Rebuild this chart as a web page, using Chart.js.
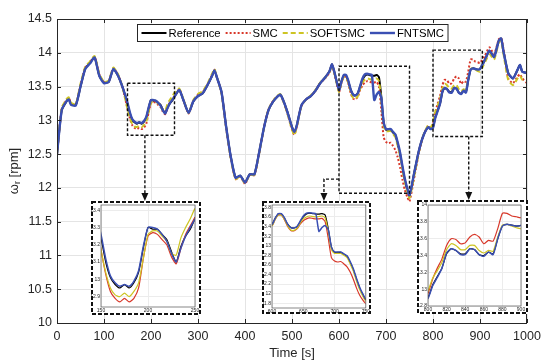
<!DOCTYPE html>
<html>
<head>
<meta charset="utf-8">
<script src="https://cdn.jsdelivr.net/npm/chart.js@4.4.1/dist/chart.umd.min.js"></script>
<style>
  html, body { margin: 0; padding: 0; background: #fff; }
  #wrap { position: relative; width: 550px; height: 363px; overflow: hidden; }
  #wrap canvas { position: absolute; }
</style>
</head>
<body>
<div id="wrap">
  <canvas id="mainChart" width="550" height="363" style="left:0;top:0"></canvas>
  <canvas id="inset1" width="110" height="114" style="left:91px;top:201px"></canvas>
  <canvas id="inset2" width="109" height="113" style="left:262px;top:201px"></canvas>
  <canvas id="inset3" width="111" height="114" style="left:417px;top:200px"></canvas>
</div>
<script>
// time axis (s), finer steps where the zoom windows are
const timeS = [
    0, 10, 20, 25, 30, 40, 50, 60, 70, 80, 90, 100, 110, 120, 130, 140,
    150, 155, 160, 165, 170, 175, 180, 185, 190, 195, 200, 205, 210, 215, 220, 225, 230, 235, 240, 245, 250,
    260, 270, 280, 290, 300, 310, 320, 330, 335, 340, 350, 360, 370, 380, 390, 400, 410, 420, 430, 440,
    450, 460, 470, 475, 480, 490, 500, 505, 510, 520, 530, 540, 550, 560, 570, 580, 585, 590,
    600, 605, 610, 615, 620, 625, 630, 635, 640, 645, 650, 655, 660, 665, 670, 675, 680, 685, 690, 695,
    700, 705, 710, 715, 720, 725, 730, 735, 740, 745, 750,
    760, 770, 780, 790, 795,
    800, 805, 810, 815, 820, 825, 830, 835, 840, 845, 850, 855, 860, 865, 870, 875, 880, 885, 890, 895, 900,
    910, 920, 930, 940, 945, 950, 960, 970, 980, 985, 990, 1000,
];

const reference = [
    12.50, 13.15, 13.28, 13.32, 13.24, 13.23, 13.50, 13.76, 13.85, 13.93, 13.66, 13.56, 13.57, 13.76, 13.66, 13.48,
    13.24, 13.10, 13.01, 12.97, 12.95, 12.97, 12.95, 12.98, 13.04, 13.18, 13.30, 13.29, 13.29, 13.26, 13.23, 13.16, 13.10, 13.19, 13.25, 13.29, 13.35,
    13.45, 13.28, 13.11, 13.28, 13.36, 13.40, 13.52, 13.66, 13.74, 13.64, 13.42, 12.90, 12.45, 12.15, 12.18, 12.08, 12.20, 12.20, 12.52, 12.88,
    13.15, 13.28, 13.36, 13.38, 13.32, 13.13, 12.90, 12.83, 12.92, 13.22, 13.31, 13.36, 13.44, 13.55, 13.63, 13.73, 13.83, 13.72,
    13.45, 13.57, 13.66, 13.66, 13.57, 13.45, 13.38, 13.37, 13.40, 13.50, 13.60, 13.66, 13.68, 13.67, 13.66, 13.66, 13.67, 13.64, 13.35, 12.97,
    12.86, 12.86, 12.86, 12.82, 12.78, 12.65, 12.50, 12.30, 12.12, 11.98, 11.88,
    12.22, 12.55, 12.78, 12.90, 12.87,
    12.90, 13.05, 13.15, 13.25, 13.42, 13.48, 13.46, 13.42, 13.42, 13.48, 13.47, 13.41, 13.40, 13.44, 13.42, 13.60, 13.75, 13.77, 13.76, 13.75, 13.76,
    13.89, 14.03, 13.94, 14.18, 14.21, 14.02, 13.70, 13.62, 13.75, 13.82, 13.72, 13.70,
];

const smc = [
    12.50, 13.17, 13.30, 13.33, 13.25, 13.23, 13.52, 13.78, 13.86, 13.94, 13.68, 13.56, 13.58, 13.77, 13.67, 13.47,
    13.17, 13.03, 12.93, 12.89, 12.87, 12.89, 12.87, 12.89, 12.95, 13.12, 13.25, 13.27, 13.26, 13.23, 13.20, 13.13, 13.09, 13.18, 13.26, 13.31, 13.36,
    13.46, 13.28, 13.10, 13.29, 13.38, 13.42, 13.53, 13.67, 13.75, 13.64, 13.41, 12.88, 12.43, 12.13, 12.17, 12.06, 12.19, 12.19, 12.51, 12.88,
    13.16, 13.29, 13.36, 13.38, 13.31, 13.11, 12.86, 12.79, 12.90, 13.21, 13.31, 13.36, 13.44, 13.55, 13.62, 13.71, 13.82, 13.70,
    13.42, 13.55, 13.64, 13.64, 13.54, 13.40, 13.32, 13.31, 13.35, 13.45, 13.52, 13.56, 13.58, 13.57, 13.56, 13.56, 13.57, 13.50, 13.15, 12.75,
    12.68, 12.66, 12.67, 12.62, 12.56, 12.45, 12.30, 12.12, 11.97, 11.87, 11.80,
    12.15, 12.52, 12.78, 12.92, 12.88,
    12.95, 13.12, 13.25, 13.36, 13.52, 13.60, 13.59, 13.54, 13.55, 13.62, 13.65, 13.62, 13.54, 13.58, 13.57, 13.72, 13.90, 13.90, 13.87, 13.86, 13.85,
    13.95, 14.08, 13.98, 14.20, 14.22, 14.05, 13.62, 13.55, 13.65, 13.68, 13.62, 13.55,
];

const softsmc = [
    12.50, 13.18, 13.31, 13.34, 13.26, 13.24, 13.54, 13.79, 13.87, 13.95, 13.69, 13.57, 13.59, 13.78, 13.68, 13.47,
    13.17, 13.04, 12.95, 12.91, 12.90, 12.92, 12.90, 12.93, 12.98, 13.12, 13.26, 13.28, 13.28, 13.25, 13.22, 13.15, 13.14, 13.24, 13.30, 13.35, 13.41,
    13.47, 13.29, 13.11, 13.30, 13.39, 13.43, 13.54, 13.69, 13.76, 13.64, 13.40, 12.88, 12.43, 12.13, 12.17, 12.07, 12.19, 12.19, 12.51, 12.88,
    13.16, 13.29, 13.37, 13.39, 13.31, 13.11, 12.86, 12.78, 12.90, 13.21, 13.31, 13.37, 13.45, 13.56, 13.63, 13.72, 13.82, 13.70,
    13.42, 13.55, 13.64, 13.64, 13.55, 13.42, 13.33, 13.32, 13.36, 13.47, 13.56, 13.60, 13.62, 13.61, 13.60, 13.61, 13.62, 13.58, 13.30, 12.92,
    12.84, 12.84, 12.84, 12.80, 12.75, 12.62, 12.47, 12.27, 12.09, 11.95, 11.85,
    12.17, 12.53, 12.79, 12.93, 12.89,
    12.98, 13.13, 13.22, 13.32, 13.47, 13.54, 13.52, 13.47, 13.47, 13.52, 13.52, 13.46, 13.43, 13.46, 13.45, 13.62, 13.76, 13.77, 13.75, 13.73, 13.72,
    13.85, 13.98, 13.90, 14.15, 14.18, 13.98, 13.60, 13.52, 13.62, 13.66, 13.60, 13.58,
];

const fntsmc = [
    12.50, 13.15, 13.28, 13.31, 13.23, 13.22, 13.50, 13.76, 13.84, 13.93, 13.66, 13.55, 13.57, 13.76, 13.66, 13.48,
    13.26, 13.12, 13.02, 12.98, 12.96, 12.97, 12.96, 12.99, 13.05, 13.19, 13.30, 13.30, 13.29, 13.26, 13.22, 13.15, 13.10, 13.18, 13.25, 13.30, 13.35,
    13.45, 13.28, 13.11, 13.28, 13.36, 13.40, 13.52, 13.66, 13.74, 13.64, 13.42, 12.90, 12.45, 12.15, 12.18, 12.08, 12.20, 12.20, 12.52, 12.88,
    13.15, 13.28, 13.36, 13.38, 13.32, 13.13, 12.90, 12.83, 12.92, 13.22, 13.31, 13.36, 13.44, 13.55, 13.63, 13.73, 13.83, 13.72,
    13.45, 13.57, 13.67, 13.67, 13.58, 13.45, 13.38, 13.37, 13.40, 13.51, 13.62, 13.68, 13.69, 13.68, 13.67, 13.30, 13.38, 13.42, 13.33, 12.97,
    12.87, 12.87, 12.87, 12.83, 12.79, 12.67, 12.52, 12.32, 12.14, 12.00, 11.89,
    12.22, 12.55, 12.78, 12.90, 12.87,
    12.89, 13.04, 13.14, 13.25, 13.43, 13.48, 13.46, 13.41, 13.41, 13.48, 13.47, 13.41, 13.39, 13.44, 13.41, 13.60, 13.75, 13.77, 13.76, 13.75, 13.76,
    13.89, 14.03, 13.94, 14.18, 14.21, 14.02, 13.70, 13.62, 13.75, 13.82, 13.72, 13.70,
];

const seriesNames = ['Reference', 'SMC', 'SOFTSMC', 'FNTSMC'];
const seriesValues = [reference, smc, softsmc, fntsmc];

const xTicks = [0, 100, 200, 300, 400, 500, 600, 700, 800, 900, 1000];
const yTicks = [10, 10.5, 11, 11.5, 12, 12.5, 13, 13.5, 14, 14.5];

const inset1XTicks = [150, 200, 250];
const inset1YTicks = [12.9, 13, 13.1, 13.2, 13.3, 13.4];
const inset2XTicks = [600, 650, 700, 750];
const inset2YTicks = [11.8, 12, 12.2, 12.4, 12.6, 12.8, 13, 13.2, 13.4, 13.6, 13.8];
const inset3XTicks = [800, 820, 840, 860, 880, 900];
const inset3YTicks = [12.8, 13, 13.2, 13.4, 13.6, 13.8, 14];

// zoomed windows on the main plot: [tStart, tEnd, low, high]
const zoomWindows = [
    [150, 250, 12.78, 13.55],
    [600, 750, 11.92, 13.80],
    [800, 905, 12.76, 14.04],
];
// where each arrow leaves its window: [t, value, t of the bend or null]
const zoomLinks = [
    [187, 12.78, null],
    [600, 12.13, 568],
    [876, 12.76, null],
];

const FONT = "'Liberation Sans', Arial, Helvetica, sans-serif";
const STYLES = [
    { color: '#000000', width: 2, dash: [] },
    { color: '#d8382a', width: 2, dash: [2, 2] },
    { color: '#cdc423', width: 2, dash: [5, 3] },
    { color: '#3a4fb3', width: 2.4, dash: [] },
];

const INSETS = [
    { id: 'inset1', top: 201, pad: { left: 0, right: 6, top: 4, bottom: 0 }, yWidth: 10, xHeight: 8,
      x: [150, 250], y: [12.84, 13.43], xTicks: inset1XTicks, yTicks: inset1YTicks },
    { id: 'inset2', top: 201, pad: { left: 0, right: 4, top: 2, bottom: 0 }, yWidth: 10, xHeight: 6,
      x: [600, 750], y: [11.7, 13.85], xTicks: inset2XTicks, yTicks: inset2YTicks },
    { id: 'inset3', top: 200, pad: { left: 0, right: 7, top: 5, bottom: 0 }, yWidth: 11, xHeight: 8,
      x: [800, 900], y: [12.8, 14.0], xTicks: inset3XTicks, yTicks: inset3YTicks },
];

function toPoints(values) {
    return timeS.map((t, i) => ({ x: t, y: values[i] }));
}

function axisOptions(range, ticks, fontSize, padding, fit, gridColor) {
    return {
        type: 'linear',
        min: range[0],
        max: range[1],
        afterBuildTicks: (s) => { s.ticks = ticks.map(v => ({ value: v })); },
        afterFit: fit,
        grid: { color: gridColor, drawTicks: false },
        border: { display: false },
        ticks: {
            autoSkip: false,
            maxRotation: 0,
            padding: padding,
            color: '#262626',
            font: { family: FONT, size: fontSize },
            callback: (v) => String(Math.round(v * 100) / 100),
        },
    };
}

function drawArrowDown(ctx, x, yTip) {
    ctx.beginPath();
    ctx.moveTo(x, yTip);
    ctx.lineTo(x - 3.5, yTip - 8);
    ctx.lineTo(x + 3.5, yTip - 8);
    ctx.closePath();
    ctx.fill();
}

function drawLegend(ctx, area) {
    ctx.save();
    ctx.font = `11.3px ${FONT}`;
    const lineLen = 25, textGap = 2, itemGap = 5, pad = 4, h = 17;
    const widths = seriesNames.map(n => ctx.measureText(n).width);
    const w = pad * 2 + widths.reduce((a, b) => a + b, 0) +
        seriesNames.length * (lineLen + textGap) + itemGap * (seriesNames.length - 1);
    const x0 = Math.round((area.left + area.right) / 2 - w / 2) + 0.5;
    const y0 = area.top + 5.5;
    ctx.fillStyle = '#fff';
    ctx.fillRect(x0, y0, w, h);
    ctx.strokeStyle = '#262626';
    ctx.lineWidth = 1;
    ctx.strokeRect(x0, y0, w, h);
    let x = x0 + pad;
    const cy = y0 + h / 2;
    seriesNames.forEach((name, i) => {
        ctx.beginPath();
        ctx.setLineDash(STYLES[i].dash);
        ctx.strokeStyle = STYLES[i].color;
        ctx.lineWidth = STYLES[i].width;
        ctx.moveTo(x, cy);
        ctx.lineTo(x + lineLen, cy);
        ctx.stroke();
        ctx.setLineDash([]);
        ctx.fillStyle = '#000';
        ctx.textBaseline = 'middle';
        ctx.textAlign = 'left';
        ctx.fillText(name, x + lineLen + textGap, cy + 0.5);
        x += lineLen + textGap + widths[i] + itemGap;
    });
    ctx.restore();
}

const mainDecor = {
    id: 'mainDecor',
    afterDraw(chart) {
        const { ctx, chartArea: area, scales: { x, y } } = chart;
        ctx.save();

        // box and inward ticks
        ctx.strokeStyle = '#262626';
        ctx.lineWidth = 1;
        ctx.strokeRect(area.left + 0.5, area.top + 0.5, area.right - area.left - 1, area.bottom - area.top);
        ctx.beginPath();
        xTicks.forEach(v => {
            const px = Math.round(x.getPixelForValue(v)) + 0.5;
            ctx.moveTo(px, area.bottom); ctx.lineTo(px, area.bottom - 4);
            ctx.moveTo(px, area.top); ctx.lineTo(px, area.top + 4);
        });
        yTicks.forEach(v => {
            const py = Math.round(y.getPixelForValue(v)) + 0.5;
            ctx.moveTo(area.left, py); ctx.lineTo(area.left + 4, py);
            ctx.moveTo(area.right, py); ctx.lineTo(area.right - 4, py);
        });
        ctx.stroke();

        // zoom windows
        ctx.strokeStyle = '#111';
        ctx.fillStyle = '#111';
        ctx.lineWidth = 1.4;
        ctx.setLineDash([3, 2]);
        zoomWindows.forEach(([t0, t1, v0, v1]) => {
            const px0 = x.getPixelForValue(t0), px1 = x.getPixelForValue(t1);
            const py0 = y.getPixelForValue(v1), py1 = y.getPixelForValue(v0);
            ctx.strokeRect(px0, py0, px1 - px0, py1 - py0);
        });

        // arrows down to the insets
        zoomLinks.forEach(([t, v, bend], i) => {
            const tipY = INSETS[i].top;
            let px = x.getPixelForValue(t);
            const py = y.getPixelForValue(v);
            ctx.setLineDash([3, 2]);
            ctx.beginPath();
            ctx.moveTo(px, py);
            if (bend !== null) {
                px = x.getPixelForValue(bend);
                ctx.lineTo(px, py);
            }
            ctx.lineTo(px, tipY - 7);
            ctx.stroke();
            ctx.setLineDash([]);
            drawArrowDown(ctx, px, tipY);
        });
        ctx.setLineDash([]);

        drawLegend(ctx, area);

        // axis titles
        ctx.fillStyle = '#262626';
        ctx.textBaseline = 'middle';
        ctx.textAlign = 'center';
        ctx.font = `13px ${FONT}`;
        ctx.fillText('Time [s]', (area.left + area.right) / 2, 353);

        ctx.translate(14, (area.top + area.bottom) / 2);
        ctx.rotate(-Math.PI / 2);
        ctx.textAlign = 'left';
        const big = `13px ${FONT}`, small = `9px ${FONT}`;
        ctx.font = big;
        const wOmega = ctx.measureText('\u03c9').width;
        const wRest = ctx.measureText(' [rpm]').width;
        ctx.font = small;
        const wSub = ctx.measureText('r').width;
        let tx = -(wOmega + wSub + wRest) / 2;
        ctx.font = big;
        ctx.fillText('\u03c9', tx, 0);
        tx += wOmega;
        ctx.font = small;
        ctx.fillText('r', tx, 4);
        tx += wSub;
        ctx.font = big;
        ctx.fillText(' [rpm]', tx, 0);
        ctx.restore();
    },
};

const insetDecor = {
    id: 'insetDecor',
    beforeDraw(chart) {
        const { ctx, width, height } = chart;
        ctx.save();
        ctx.fillStyle = '#fff';
        ctx.fillRect(0, 0, width, height);
        ctx.restore();
    },
    afterDraw(chart) {
        const { ctx, width, height, chartArea: area } = chart;
        ctx.save();
        ctx.strokeStyle = '#555';
        ctx.lineWidth = 0.7;
        ctx.strokeRect(area.left, area.top, area.right - area.left, area.bottom - area.top);
        ctx.strokeStyle = '#111';
        ctx.lineWidth = 2;
        ctx.setLineDash([4, 2]);
        ctx.strokeRect(1, 1, width - 2, height - 2);
        ctx.restore();
    },
};

function buildMainChart() {
    const datasets = seriesValues.map((vals, i) => ({
        label: seriesNames[i],
        data: toPoints(vals),
        borderColor: STYLES[i].color,
        borderWidth: STYLES[i].width,
        borderDash: STYLES[i].dash,
        pointRadius: 0,
        tension: 0.2,
        order: 3 - i,
    }));

    new Chart(document.getElementById('mainChart'), {
        type: 'line',
        data: { datasets },
        options: {
            responsive: false,
            animation: false,
            devicePixelRatio: 1,
            layout: { padding: { left: 0, right: 23, top: 19, bottom: 0 } },
            plugins: { legend: { display: false }, tooltip: { enabled: false } },
            scales: {
                x: axisOptions([0, 1000], xTicks, 12.5, 6, (s) => { s.height = 40; }, '#e4e4e4'),
                y: axisOptions([10, 14.5], yTicks, 12.5, 5, (s) => { s.width = 57; }, '#e4e4e4'),
            },
        },
        plugins: [mainDecor],
    });
}

function buildInset(spec) {
    const datasets = seriesValues.map((vals, i) => ({
        label: seriesNames[i],
        data: toPoints(vals),
        borderColor: STYLES[i].color,
        borderWidth: i === 3 ? 1.5 : 1.2,
        pointRadius: 0,
        tension: 0.2,
        order: 3 - i,
    }));

    new Chart(document.getElementById(spec.id), {
        type: 'line',
        data: { datasets },
        options: {
            responsive: false,
            animation: false,
            devicePixelRatio: 1,
            layout: { padding: spec.pad },
            plugins: { legend: { display: false }, tooltip: { enabled: false } },
            scales: {
                x: axisOptions(spec.x, spec.xTicks, 5, 1, (s) => { s.height = spec.xHeight; }, '#ececec'),
                y: axisOptions(spec.y, spec.yTicks, 5, 1, (s) => { s.width = spec.yWidth; }, '#ececec'),
            },
        },
        plugins: [insetDecor],
    });
}

function init() {
    buildMainChart();
    INSETS.forEach(buildInset);
}

document.addEventListener('DOMContentLoaded', init);
</script>
</body>
</html>
